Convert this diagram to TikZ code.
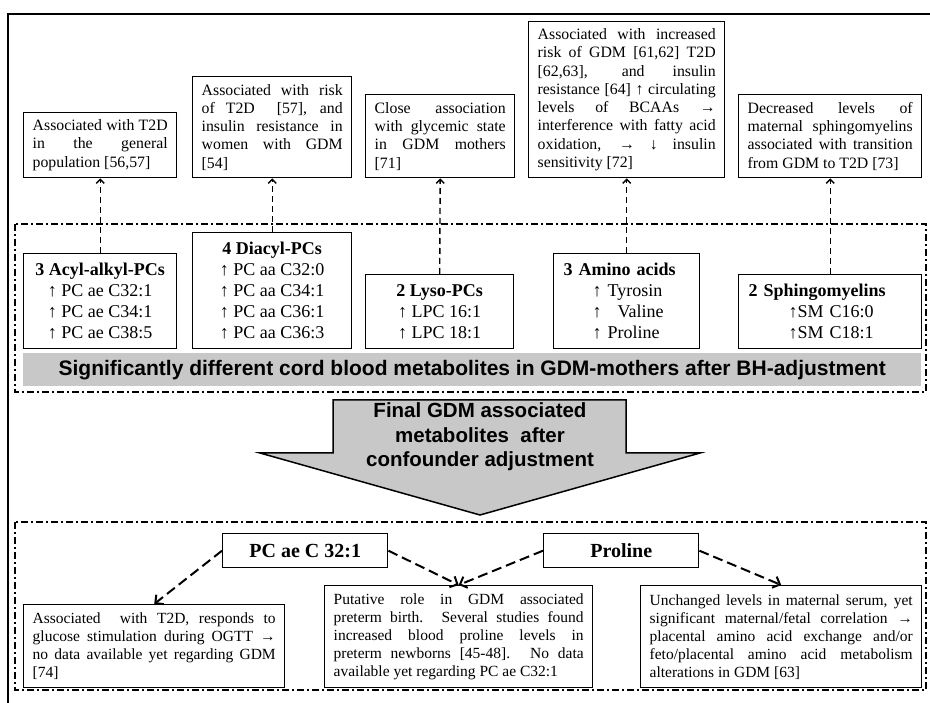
\documentclass[tikz,border=0pt]{standalone}
\usepackage{fontspec}
\setmainfont{Liberation Serif}
\newfontfamily\bannerfont{Liberation Sans}
\usetikzlibrary{arrows.meta}
\setlength{\parindent}{0pt}
\definecolor{bargray}{HTML}{C8C8C8}

\begin{document}
\begin{tikzpicture}[x=1pt, y=-1pt,
  >={Straight Barb[length=4pt, width=8pt]},
  notebox/.style={draw, line width=1.4pt, anchor=north west, inner xsep=9pt,
    inner ysep=0pt, align=justify, font=\fontsize{15.8}{18.3}\selectfont},
  metabox/.style={draw, line width=1.4pt, anchor=north west, inner xsep=10pt,
    inner ysep=0pt, font=\fontsize{18}{21}\selectfont},
  tagbox/.style={draw, line width=1.4pt, anchor=north west, inner sep=0pt,
    minimum height=34pt, font=\bfseries\fontsize{20}{24}\selectfont},
  groupframe/.style={line width=1.2pt, dash pattern=on 7pt off 3pt on 2pt off 3pt},
  linkup/.style={->, line width=1.4pt, dash pattern=on 6pt off 4pt},
  linkdown/.style={-{Straight Barb[length=6pt, width=12pt]}, line width=2pt,
    dash pattern=on 10pt off 5pt}]

\useasboundingbox (0,0) rectangle (930,703);

% Outer frame (left and top only)
\draw[line width=1.5pt] (8,703) -- (8,14) -- (930,14);

% ================================================================
% Upper part: notes on the cord blood metabolites
% ================================================================
\node[notebox, text width=135pt, minimum width=153pt, minimum height=65pt]
  (notepop) at (23,112)
  {Associated with T2D\linebreak{} in the general\linebreak{} population [56,57]};
\node[notebox, text width=141pt, minimum width=159pt, minimum height=101pt]
  (noterisk) at (192,76)
  {Associated with risk\linebreak{} of T2D\ \ [57], and\linebreak{} insulin resistance in\linebreak{}
   women with GDM\linebreak{}[54]};
\node[notebox, text width=131pt, minimum width=149pt, minimum height=83pt]
  (noteglyc) at (365,94)
  {Close association\linebreak{} with glycemic state\linebreak{} in GDM mothers\linebreak{}[71]};
\node[notebox, text width=178pt, minimum width=196pt, minimum height=156pt]
  (noteamino) at (528,21)
  {Associated with increased\linebreak{} risk of GDM [61,62] T2D\linebreak{}[62,63], and insulin\linebreak{}
   resistance [64] ↑ circulating\linebreak{} levels of BCAAs →\linebreak{}
   interference with fatty acid\linebreak{} oxidation, → ↓ insulin\linebreak{} sensitivity [72]};
\node[notebox, text width=165pt, minimum width=183pt, minimum height=83pt]
  (notesm) at (738,94)
  {Decreased levels of\linebreak{} maternal sphingomyelins\linebreak{}
   associated with transition\linebreak{} from GDM to T2D [73]};

% Frame of the significant metabolites
\draw[groupframe] (15,224) rectangle (926,392);

% Metabolite groups
\node[metabox, align=center, minimum width=153pt, minimum height=95pt]
  (acylalkyl) at (23,253)
  {\textbf{3 Acyl-alkyl-PCs}\\ ↑ PC ae C32:1\\ ↑ PC ae C34:1\\ ↑ PC ae C38:5};
\node[metabox, align=center, minimum width=159pt, minimum height=116pt]
  (diacyl) at (192,232)
  {\textbf{4 Diacyl-PCs}\\ ↑ PC aa C32:0\\ ↑ PC aa C34:1\\ ↑ PC aa C36:1\\ ↑ PC aa C36:3};
\node[metabox, align=center, minimum width=148pt, minimum height=74pt]
  (lyso) at (365,274)
  {\textbf{2 Lyso-PCs}\\ ↑ LPC 16:1\\ ↑ LPC 18:1};
\node[metabox, align=left, text width=126pt, minimum width=146pt, minimum height=95pt]
  (amino) at (553,253)
  {\textbf{3 Amino acids}\\ \hspace*{29pt}↑ Tyrosin\\ \hspace*{29pt}↑\hspace{10pt} Valine\\
   \hspace*{29pt}↑ Proline};
\node[metabox, align=left, text width=163pt, minimum width=183pt, minimum height=74pt]
  (sphingo) at (738,274)
  {\textbf{2 Sphingomyelins}\\ \hspace*{40pt}↑SM C16:0\\ \hspace*{40pt}↑SM C18:1};

% Links up to the notes
\draw[linkup] (acylalkyl.north) -- (notepop.south);
\draw[linkup] (diacyl.north) -- (noterisk.south);
\draw[linkup] (lyso.north) -- (noteglyc.south);
\draw[linkup] (amino.north) -- (noteamino.south);
\draw[linkup] (sphingo.north) -- (notesm.south);

% Banner
\node[fill=bargray, anchor=north west, inner sep=0pt, minimum width=898pt,
      minimum height=33pt, font=\bannerfont\bfseries\fontsize{21}{24}\selectfont]
  (banner) at (23,353)
  {Significantly different cord blood metabolites in GDM-mothers after BH-adjustment};

% ================================================================
% Big arrow
% ================================================================
\draw[line width=1.5pt, fill=bargray]
  (333,400) -- (626,400) -- (626,453) -- (700,453) -- (480,515)
  -- (260,453) -- (333,453) -- cycle;
\node[align=center, font=\bannerfont\bfseries\fontsize{20.5}{24.5}\selectfont]
  (finalnote) at (480,437)
  {Final GDM associated\\ metabolites\ \ after\\ confounder adjustment};

% ================================================================
% Lower part: final metabolites
% ================================================================
\draw[groupframe] (15,522) rectangle (926,690);

\node[tagbox, minimum width=165pt] (pcae) at (222,533) {PC ae C 32:1};
\node[tagbox, minimum width=155pt] (proline) at (543,533) {Proline};

\node[notebox, text width=243pt, minimum width=261pt, minimum height=83pt,
      font=\fontsize{15.5}{18}\selectfont]
  (pcnote) at (23,604)
  {Associated\ \ with T2D, responds to\linebreak{} glucose stimulation during OGTT →\linebreak{}
   no data available yet regarding GDM\linebreak{}[74]};
\node[notebox, text width=250pt, minimum width=268pt, minimum height=102pt,
      font=\fontsize{15.5}{18}\selectfont]
  (pretermnote) at (324,585)
  {Putative role in GDM associated\linebreak{} preterm birth. Several studies found\linebreak{}
   increased blood proline levels in\linebreak{} preterm newborns [45-48]. No data\linebreak{}
   available yet regarding PC ae C32:1};
\node[notebox, text width=263pt, minimum width=281pt, minimum height=102pt,
      font=\fontsize{15.5}{18}\selectfont]
  (serumnote) at (640,585)
  {Unchanged levels in maternal serum, yet\linebreak{} significant maternal/fetal correlation →\linebreak{}
   placental amino acid exchange and/or\linebreak{} feto/placental amino acid metabolism\linebreak{}
   alterations in GDM [63]};

% Links down to the notes
\draw[linkdown] (pcae.west) -- (pcnote.north);
\draw[linkdown] (pcae.east) -- (pretermnote.north);
\draw[linkdown] (proline.west) -- (pretermnote.north);
\draw[linkdown] (proline.east) -- (serumnote.north);

\end{tikzpicture}
\end{document}
